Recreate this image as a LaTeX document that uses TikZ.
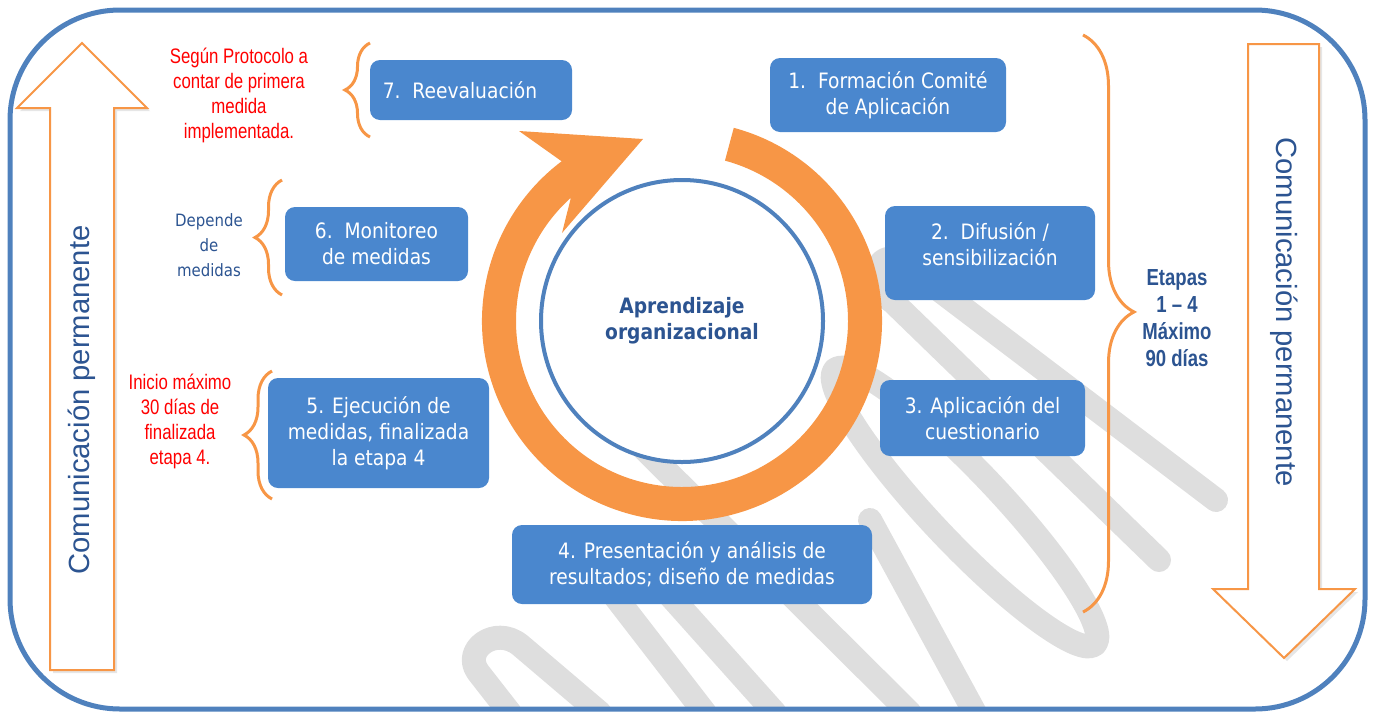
\documentclass[tikz,border=0pt]{standalone}
\usepackage{fontspec}
\setmainfont{Liberation Sans}
\newfontfamily\tahoma[FakeStretch=0.88]{DejaVu Sans}
\newfontfamily\narrow[FakeStretch=0.80]{Liberation Sans}
\usetikzlibrary{calc,decorations.pathreplacing,shadows}

\definecolor{frameblue}{RGB}{79,129,189}
\definecolor{boxblue}{RGB}{74,135,206}
\definecolor{ringorange}{RGB}{247,150,70}
\definecolor{textblue}{RGB}{44,84,145}
\definecolor{wmgray}{RGB}{222,222,222}

\tikzset{
  stage/.style={fill=boxblue, rounded corners=5pt, text=white, align=center,
    inner sep=0pt, font=\tahoma\fontsize{10.6}{13}\selectfont},
  bigarrow/.style={draw=ringorange, line width=1pt, fill=white,
    drop shadow={shadow xshift=1.5pt, shadow yshift=-1.5pt, opacity=0.2}},
  armtext/.style={text=textblue, font=\fontsize{14.6}{17}\selectfont},
  curly/.style={draw=ringorange, line width=1.5pt, decorate,
    decoration={brace, amplitude=#1}},
  note/.style={align=center, text=red, font=\narrow\fontsize{10.5}{12.5}\selectfont},
  wmark/.style={draw=wmgray, line width=12pt, line cap=round, line join=round},
}

\begin{document}
\begin{tikzpicture}[x=0.5pt, y=-0.5pt]
    \useasboundingbox (0,0) rectangle (1375,713);

    % Watermark
    \begin{scope}
        \clip[rounded corners=55pt] (10,10) rectangle (1365,709);
        \draw[wmark] (1216,500) -- (905,264) .. controls (878,244) and (864,283) .. (893,302) -- (1159,560);
        \draw[wmark, rotate around={-46.6:(965,507)}] (965,507) ellipse[x radius=189, y radius=35];
        \draw[wmark] (595,400) -- (910,713);
        \draw[wmark] (610,590) -- (705,713);
        \draw[wmark] (665,590) -- (775,713);
        \draw[wmark] (870,520) -- (975,713);
        \draw[wmark] (510,713) -- (478,672) .. controls (462,650) and (495,625) .. (520,645) -- (600,713);
    \end{scope}

    % Frame
    \draw[frameblue, line width=2.5pt, rounded corners=55pt] (10,10) rectangle (1365,709);

    % Side arrows
    \draw[bigarrow] (50,670) -- (50,108) -- (17,108) -- (82,43) -- (147,108) -- (114,108) -- (114,670) -- cycle;
    \node[armtext, rotate=90] (comleft) at (82,400) {Comunicación permanente};
    \draw[bigarrow] (1248,44) -- (1248,589) -- (1213,589) -- (1284,658) -- (1355,589) -- (1319,589) -- (1319,44) -- cycle;
    \node[armtext, rotate=-90] (comright) at (1284,312) {Comunicación permanente};

    % Cycle
    \coordinate (hub) at (682,321);
    \fill[ringorange] ($(hub)+(-75:200)$) arc[start angle=-75, end angle=233, radius=200]
        -- (519,131) -- (643,139) -- (562,233)
        -- ($(hub)+(228:166)$) arc[start angle=228, end angle=-75, radius=166] -- cycle;
    \draw[frameblue, line width=2pt, fill=white] (hub) circle[radius=141];
    \node[align=center, text=textblue, font=\tahoma\bfseries\fontsize{10.6}{13}\selectfont] (core) at (hub) {Aprendizaje\\organizacional};

    % Stages
    \node[stage, minimum width=118pt, minimum height=37pt] (s1) at (888,95) {1.\ \ Formación Comité\\de Aplicación};
    \node[stage, minimum width=105pt, minimum height=47pt, text depth=8.5pt] (s2) at (990,253) {2.\ \ Difusión /\\sensibilización};
    \node[stage, minimum width=102.5pt, minimum height=38pt] (s3) at (982.5,418) {3. Aplicación del\\cuestionario};
    \node[stage, minimum width=180pt, minimum height=39.5pt] (s4) at (692,564.5) {4. Presentación y análisis de\\resultados; diseño de medidas};
    \node[stage, minimum width=110.5pt, minimum height=55pt] (s5) at (378.5,433) {5. Ejecución de\\medidas, finalizada\\la etapa 4};
    \node[stage, minimum width=91.5pt, minimum height=37pt] (s6) at (376.5,244) {6.\ \ Monitoreo\\de medidas};
    \node[stage, minimum width=101pt, minimum height=30pt] (s7) at (471,90) {7.\ \ Reevaluación\hspace{11pt}};

    % Braces
    \draw[curly=12.5pt] (370,137) -- (370,43);
    \draw[curly=13.5pt] (282,295) -- (282,180);
    \draw[curly=14pt] (272,499) -- (272,371);
    \draw[curly=25.5pt, decoration={aspect=0.48}] (1083,35) -- (1083,612);

    % Notes
    \node[note] (n7) at (239,95) {Según Protocolo a\\contar de primera\\medida\\implementada.};
    \node[note] (n5) at (180,421) {Inicio máximo\\30 días de\\finalizada\\etapa 4.};
    \node[align=center, text=textblue, font=\tahoma\fontsize{8.5}{12.5}\selectfont] (n6) at (209,245) {Depende\\de\\medidas};
    \node[align=center, text=textblue, font=\narrow\bfseries\fontsize{11.6}{13.5}\selectfont] (n14) at (1177,318) {Etapas\\1 – 4\\Máximo\\90 días};
\end{tikzpicture}
\end{document}
